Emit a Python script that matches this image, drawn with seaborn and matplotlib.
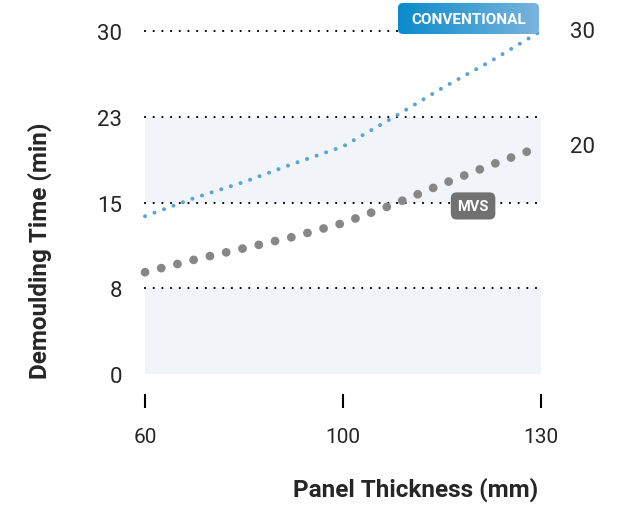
import numpy as np
import pandas as pd
import matplotlib.pyplot as plt
import seaborn as sns
from matplotlib.patches import FancyBboxPatch
from matplotlib.colors import LinearSegmentedColormap

# x positions on the (evenly spaced) thickness axis, 0 -> 60mm, 1 -> 100mm, 2 -> 130mm
tick_pos = [0, 1, 2]
tick_labels = ["60", "100", "130"]
sample_pos = [0, 0.25, 0.5, 0.75, 1.0, 1.25, 1.5, 1.75, 2.0]
conventional = [13.8, 15.4, 16.8, 18.4, 19.9, 22.4, 25.0, 27.4, 30.0]
mvs = [8.9, 10.0, 11.0, 12.0, 13.2, 14.8, 16.6, 18.3, 19.9]
y_ticks = [0, 7.5, 15, 22.5, 30]
y_labels = ["0", "8", "15", "23", "30"]
end_labels = ["30", "20"]

df = pd.DataFrame({'pos': sample_pos * 2,
                   'time': conventional + mvs,
                   'series': ['Conventional'] * len(sample_pos) + ['MVS'] * len(sample_pos)})

sns.set_style("white")
plt.rcParams['font.family'] = ['Roboto', 'DejaVu Sans']

fig = plt.figure(figsize=(6.3, 5.06), dpi=100)
ax = fig.add_axes([145/630, 1 - 375/506, 396/630, 343/506])

# background bands + dotted grid
for lo, hi in zip(y_ticks[0::2], y_ticks[1::2]):
    ax.axhspan(lo, hi, color='#f1f5fa', lw=0, zorder=0)
for y in y_ticks[1:]:
    ax.axhline(y, color='black', lw=1.6, ls=(0, (0.01, 3.9)), dash_capstyle='round',
               zorder=1, clip_on=False)

blue = '#5ba3d9'
grey = '#878787'
sns.lineplot(data=df[df.series == 'Conventional'], x='pos', y='time', ax=ax, color=blue,
             lw=2.9, ls=(0, (0.01, 2.5)), dash_capstyle='round', clip_on=False, zorder=3)
sns.lineplot(data=df[df.series == 'MVS'], x='pos', y='time', ax=ax, color=grey,
             lw=6.3, ls=(0, (0.01, 1.9)), dash_capstyle='round', clip_on=False, zorder=3)

ax.set_xlim(0, 2)
ax.set_ylim(0, 30)
ax.set_yticks(y_ticks, labels=y_labels)
ax.tick_params(axis='y', length=0, pad=16.5, labelsize=16)
ax.set_xticks([])
ax.set_xlabel('')
ax.set_ylabel('')
for s in ax.spines.values():
    s.set_visible(False)

sec = ax.secondary_xaxis(-20/343)
sec.set_xticks(tick_pos, labels=tick_labels)
sec.tick_params(axis='x', direction='out', length=10, width=1.5, color='black', pad=14, labelsize=15)
sec.spines['bottom'].set_visible(False)

# end values on the right
for val, lab in zip([conventional[-1], mvs[-1]], end_labels):
    ax.annotate(lab, xy=(2, val), xytext=(29, 0), textcoords='offset pixels',
                ha='left', va='center', fontsize=16, annotation_clip=False)

fig.text(40/630, 1 - 251/506, 'Demoulding Time (min)', rotation=90, ha='center', va='center',
         fontsize=17.5, fontweight='bold')
fig.text(416/630, 1 - 490/506, 'Panel Thickness (mm)', ha='center', va='center',
         fontsize=17.5, fontweight='bold')

# gradient badge for CONVENTIONAL
bw, bh = 141, 31
bax = fig.add_axes([398/630, 1 - 35/506, bw/630, bh/506])
bax.set_xlim(0, bw)
bax.set_ylim(0, bh)
bax.axis('off')
badge = FancyBboxPatch((0, 0), bw, bh, boxstyle='round,pad=0,rounding_size=5',
                       facecolor='none', edgecolor='none')
bax.add_patch(badge)
grad = np.linspace(0, 1, 256).reshape(1, -1)
cmap = LinearSegmentedColormap.from_list('badge', ['#0a8bcb', '#7ab4de'])
im = bax.imshow(grad, cmap=cmap, extent=[0, bw, 0, bh], aspect='auto')
im.set_clip_path(badge)
bax.text(bw/2, bh/2, 'CONVENTIONAL', color='white', fontsize=11, fontweight='bold',
         ha='center', va='center')

# MVS badge
ax.text(1.657, 14.7, 'MVS', color='white', fontsize=10.5, fontweight='bold', ha='center', va='center',
        zorder=5, bbox=dict(boxstyle='round,pad=0.45,rounding_size=0.4', fc='#717171', ec='none'))

plt.savefig('out.png', dpi=100)
